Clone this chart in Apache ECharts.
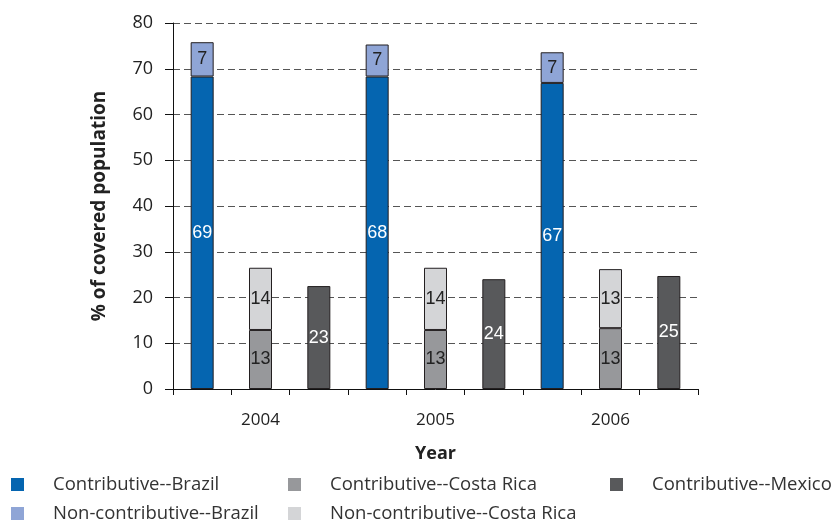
<!DOCTYPE html>
<html>
<head>
<meta charset="utf-8">
<script src="https://cdn.jsdelivr.net/npm/echarts@6/dist/echarts.min.js"></script>
<style>
  html, body { margin: 0; padding: 0; background: #fff; }
  #main { width: 838px; height: 520px; }
</style>
</head>
<body>
<div id="main"></div>
<script>
// 9 slots on the axis: 3 per year (Brazil, Costa Rica, Mexico)
var years = ['2004', '2005', '2006'];
var slotLabels = ['', '2004', '', '', '2005', '', '', '2006', ''];

// bar heights
var contribBrazil = [68.3, 68.3, 66.9];
var nonContribBrazil = [7.5, 7.0, 6.7];
var contribCostaRica = [12.9, 12.9, 13.3];
var nonContribCostaRica = [13.6, 13.6, 12.9];
var contribMexico = [22.5, 24.0, 24.7];

// printed labels
var lblContribBrazil = ['69', '68', '67'];
var lblNonContribBrazil = ['7', '7', '7'];
var lblContribCostaRica = ['13', '13', '13'];
var lblNonContribCostaRica = ['14', '14', '13'];
var lblContribMexico = ['23', '24', '25'];

var chart = echarts.init(document.getElementById('main'));

// put a year's value into its slot, '-' elsewhere
function slotData(arr, offset) {
  var out = [];
  for (var i = 0; i < slotLabels.length; i++) {
    var y = Math.floor(i / 3);
    out.push(i % 3 === offset ? arr[y] : '-');
  }
  return out;
}

var labelFont = '"Liberation Sans Narrow", "Liberation Sans", sans-serif';
var textFont = '"Open Sans", sans-serif';

function makeSeries(name, values, labels, offset, color, textColor) {
  return {
    name: name,
    type: 'bar',
    stack: 'all',
    barWidth: 23,
    data: slotData(values, offset),
    itemStyle: { color: color, borderColor: '#231f20', borderWidth: 1 },
    label: {
      show: true,
      position: 'inside',
      color: textColor,
      fontFamily: labelFont,
      fontSize: 18,
      formatter: function (p) { return labels[Math.floor(p.dataIndex / 3)]; }
    },
    emphasis: { disabled: true }
  };
}

var legendText = { color: '#333', fontSize: 18.5, fontFamily: textFont, padding: [0, 0, 0, 24] };
function legendAt(name, left, top) {
  return {
    data: [name], left: left, top: top, padding: 0, itemWidth: 13, itemHeight: 13,
    icon: 'rect', itemStyle: { borderWidth: 0 }, textStyle: legendText, selectedMode: false
  };
}

var option = {
  backgroundColor: '#fff',
  animation: false,
  grid: { left: 173, right: 140, top: 23, bottom: 131 },
  legend: [
    legendAt('Contributive--Brazil', 11, 475),
    legendAt('Contributive--Costa Rica', 288, 475),
    legendAt('Contributive--Mexico', 610, 475),
    legendAt('Non-contributive--Brazil', 11, 504),
    legendAt('Non-contributive--Costa Rica', 288, 504)
  ],
  xAxis: {
    type: 'category',
    data: slotLabels,
    name: 'Year',
    nameLocation: 'middle',
    nameGap: 56,
    nameTextStyle: { fontSize: 18, fontWeight: 'bold', color: '#222', fontFamily: textFont },
    axisLine: { lineStyle: { color: '#111', width: 1 } },
    axisTick: { show: true, length: 6, interval: 0, lineStyle: { color: '#111' } },
    axisLabel: { interval: 0, margin: 23, fontSize: 17, color: '#222', fontFamily: textFont }
  },
  yAxis: {
    type: 'value',
    min: 0,
    max: 80,
    interval: 10,
    name: '% of covered population',
    nameLocation: 'middle',
    nameGap: 64,
    nameTextStyle: { fontSize: 19, fontWeight: 'bold', color: '#222', fontFamily: textFont },
    axisLine: { show: true, lineStyle: { color: '#111', width: 1 } },
    axisTick: { show: true, length: 8, lineStyle: { color: '#111' } },
    axisLabel: { margin: 20, fontSize: 18, color: '#222', fontFamily: textFont },
    splitLine: { show: true, lineStyle: { type: [7, 4], color: '#555', width: 1 } }
  },
  series: [
    makeSeries('Contributive--Brazil', contribBrazil, lblContribBrazil, 0, '#0565b0', '#fff'),
    makeSeries('Non-contributive--Brazil', nonContribBrazil, lblNonContribBrazil, 0, '#8fa5d6', '#222'),
    makeSeries('Contributive--Costa Rica', contribCostaRica, lblContribCostaRica, 1, '#97989b', '#222'),
    makeSeries('Non-contributive--Costa Rica', nonContribCostaRica, lblNonContribCostaRica, 1, '#d4d5d7', '#222'),
    makeSeries('Contributive--Mexico', contribMexico, lblContribMexico, 2, '#58595b', '#fff')
  ]
};

chart.setOption(option);
</script>
</body>
</html>
